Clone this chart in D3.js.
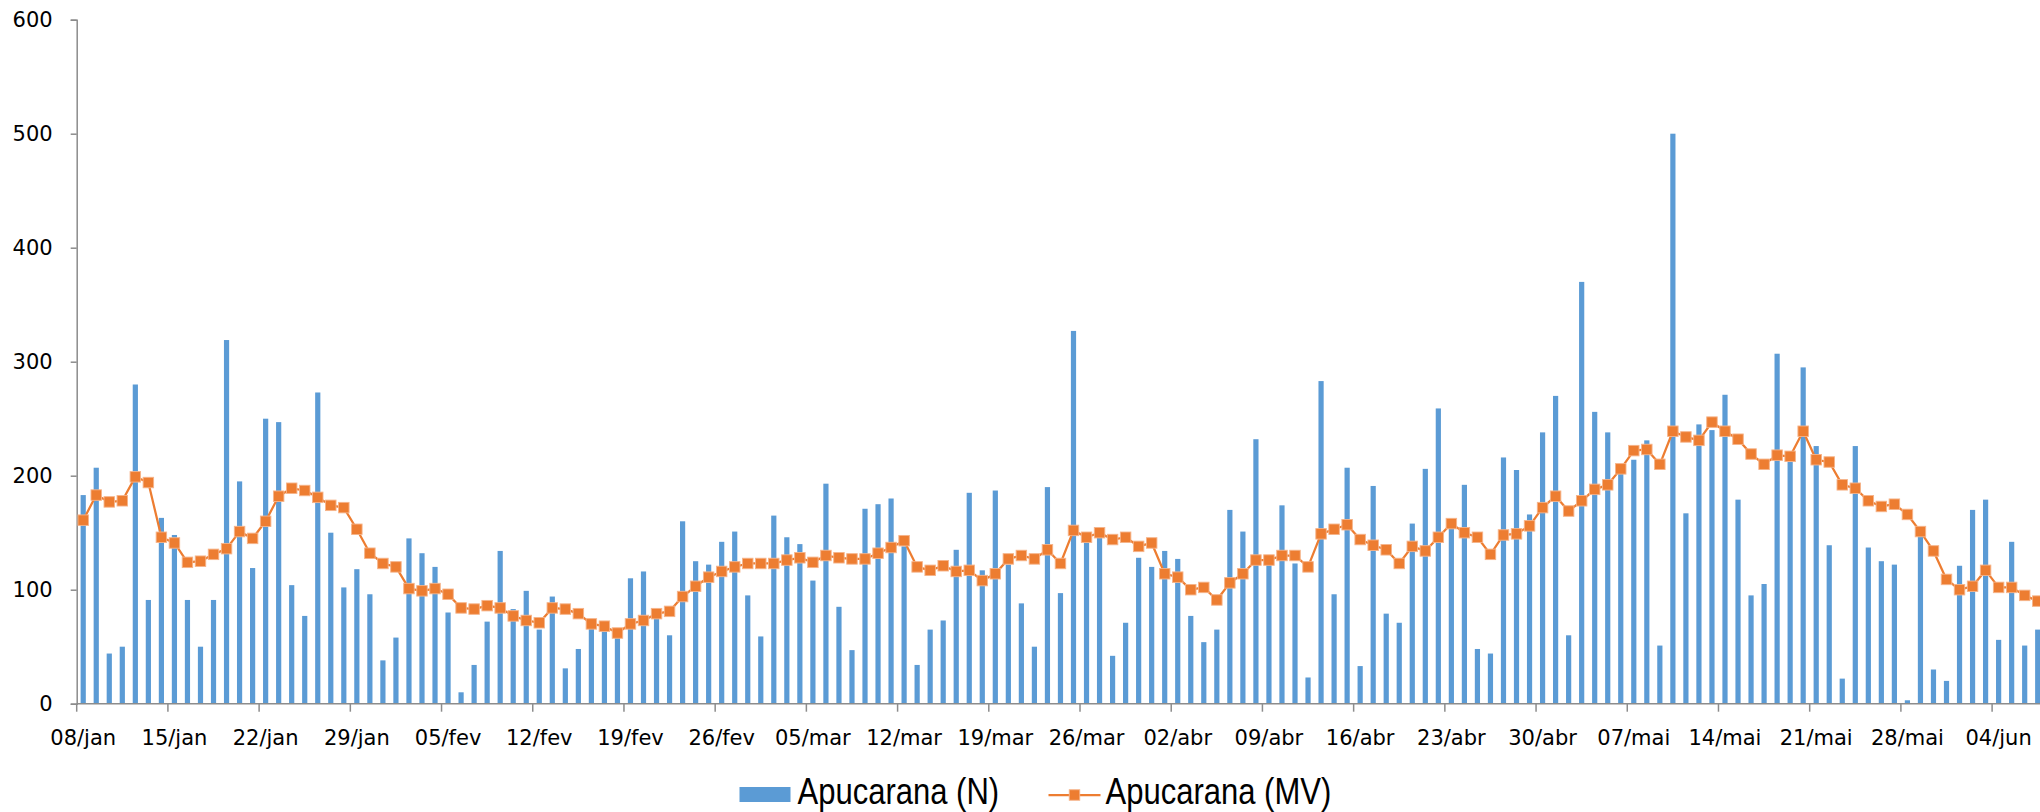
<!DOCTYPE html>
<html>
<head>
<meta charset="utf-8">
<script src="https://cdn.jsdelivr.net/npm/d3@7"></script>
<style>
  html, body { margin: 0; padding: 0; background: #ffffff; overflow: hidden; }
  svg { display: block; }
</style>
</head>
<body>
<svg id="chart" width="2040" height="812"></svg>
<script>
// ---- DATA ----
const startDate = "2021-01-08";
const dayCount = 151;
const tickLabels = ["08/jan","15/jan","22/jan","29/jan","05/fev","12/fev","19/fev","26/fev",
  "05/mar","12/mar","19/mar","26/mar","02/abr","09/abr","16/abr","23/abr","30/abr",
  "07/mai","14/mai","21/mai","28/mai","04/jun"];
const yTicks = [0, 100, 200, 300, 400, 500, 600];
const seriesNames = ["Apucarana (N)", "Apucarana (MV)"];

const dailyN = [
  183, 207, 44, 50, 280, 91, 163, 148, 91, 50, 91, 319, 195, 119, 250, 247, 104, 77, 273, 150,
  102, 118, 96, 38, 58, 145, 132, 120, 80, 10, 34, 72, 134, 83, 99, 65, 94, 31, 48,
  68, 66, 60, 110, 116, 78, 60, 160, 125, 122, 142, 151, 95, 59, 165, 146, 140, 108, 193,
  85, 47, 171, 175, 180, 138, 34, 65, 73, 135, 185, 117, 187, 122, 88, 50, 190, 97, 327,
  144, 146, 42, 71, 128, 120, 134, 127, 77, 54, 65, 170, 151, 232, 123, 174, 123, 23, 283,
  96, 207, 33, 191, 79, 71, 158, 206, 259, 154, 192, 48, 44, 216, 205, 166, 238, 270, 60,
  370, 256, 238, 202, 214, 231, 51, 500, 167, 245, 240, 271, 179, 95, 105, 307, 212, 295,
  226, 139, 22, 226, 137, 125, 122, 3, 149, 30, 20, 121, 170, 179, 56, 142, 51, 65
];
const movingAvg = [
  161, 183, 177, 178, 199, 194, 146, 141, 124, 125, 131, 136, 151, 145, 160, 182, 189, 187, 181,
  174, 172, 153, 132, 123, 120, 101, 99, 101, 96, 84, 83, 86, 84, 77, 73, 71, 84, 83,
  79, 70, 68, 62, 70, 73, 79, 81, 94, 103, 111, 116, 120, 123, 123, 123, 126, 128, 124, 130,
  128, 127, 127, 132, 137, 143, 120, 117, 121, 116, 117, 108, 114, 127, 130, 127, 135, 123, 152,
  146, 150, 144, 146, 138, 141, 114, 111, 100, 102, 91, 106, 114, 126, 126, 130, 130, 120, 149,
  153, 157, 144, 139, 135, 123, 138, 134, 146, 158, 150, 146, 131, 148, 149, 156, 172, 182, 169,
  178, 188, 192, 206, 222, 223, 210, 239, 234, 231, 247, 239, 232, 219, 210, 218, 217, 239,
  214, 212, 192, 189, 178, 173, 175, 166, 151, 134, 109, 100, 103, 117, 102, 102, 95, 90
];

// ---- DRAW ----
(function () {
  const svg = d3.select("#chart");
  const plotLeft = 76.7, plotBottom = 703.7, plotTop = 19.7, step = 13.03;
  const t0 = new Date(startDate + "T00:00:00");
  const days = d3.timeDay.range(t0, d3.timeDay.offset(t0, dayCount));

  const x = d3.scaleBand().domain(days.map((d, i) => i)).range([plotLeft, plotLeft + dayCount * step]).padding(0);
  const y = d3.scaleLinear().domain([0, 600]).range([plotBottom, plotTop]);
  const bw = x.bandwidth();
  const barW = 5.2;
  const axisColor = "#8c8c8c";
  const font = "'DejaVu Sans', Verdana, sans-serif";

  // Y axis
  const yAxis = d3.axisLeft(y).tickValues(yTicks).tickSize(6).tickPadding(18).tickFormat(d3.format("d"));
  const gy = svg.append("g").attr("transform", `translate(${plotLeft},0)`).call(yAxis);
  gy.select(".domain").attr("stroke", axisColor).attr("stroke-width", 1.5);
  gy.selectAll(".tick line").attr("stroke", axisColor).attr("stroke-width", 1.5);
  gy.selectAll(".tick text").attr("font-family", font).attr("font-size", 21).attr("fill", "#000");

  // Bars
  svg.append("g").selectAll("rect").data(dailyN).join("rect")
    .attr("x", (d, i) => x(i) + bw / 2 - barW / 2)
    .attr("y", d => y(d))
    .attr("width", barW)
    .attr("height", d => y(0) - y(d))
    .attr("fill", "#5B9BD5");

  // X axis
  svg.append("line").attr("x1", plotLeft).attr("x2", 2040).attr("y1", plotBottom).attr("y2", plotBottom)
    .attr("stroke", axisColor).attr("stroke-width", 1.5);
  const tickIdx = tickLabels.map((t, k) => k * 7);
  svg.append("g").selectAll("line").data(tickIdx).join("line")
    .attr("x1", i => x(i)).attr("x2", i => x(i))
    .attr("y1", plotBottom).attr("y2", plotBottom + 8)
    .attr("stroke", axisColor).attr("stroke-width", 1.5);
  svg.append("g").selectAll("text").data(tickLabels).join("text")
    .attr("x", (t, k) => x(k * 7) + bw / 2)
    .attr("y", 745)
    .attr("text-anchor", "middle")
    .attr("font-family", font).attr("font-size", 21).attr("fill", "#000")
    .text(t => t);

  // Line
  const lineColor = "#ED7D31";
  const line = d3.line().x((d, i) => x(i) + bw / 2).y(d => y(d));
  svg.append("path").datum(movingAvg).attr("d", line)
    .attr("fill", "none").attr("stroke", lineColor).attr("stroke-width", 2.25).attr("stroke-linejoin", "round");
  const ms = 10.5;
  svg.append("g").selectAll("rect").data(movingAvg).join("rect")
    .attr("x", (d, i) => x(i) + bw / 2 - ms / 2)
    .attr("y", d => y(d) - ms / 2)
    .attr("width", ms).attr("height", ms)
    .attr("fill", lineColor).attr("stroke", "#F6B48A").attr("stroke-width", 0.9);

  // Legend
  const legFont = "'Liberation Sans', Arial, sans-serif";
  const lg = svg.append("g");
  lg.append("rect").attr("x", 739.5).attr("y", 787).attr("width", 51).attr("height", 15).attr("fill", "#5B9BD5");
  lg.append("text").attr("transform", "translate(797.5,804) scale(0.85,1)")
    .attr("font-family", legFont).attr("font-size", 36.5)
    .attr("fill", "#000").text(seriesNames[0]);
  lg.append("line").attr("x1", 1048.5).attr("x2", 1100.5).attr("y1", 795).attr("y2", 795)
    .attr("stroke", lineColor).attr("stroke-width", 2.25);
  lg.append("rect").attr("x", 1074.5 - ms / 2).attr("y", 795 - ms / 2).attr("width", ms).attr("height", ms)
    .attr("fill", lineColor).attr("stroke", "#F6B48A").attr("stroke-width", 0.9);
  lg.append("text").attr("transform", "translate(1105.5,804) scale(0.85,1)")
    .attr("font-family", legFont).attr("font-size", 36.5)
    .attr("fill", "#000").text(seriesNames[1]);
})();
</script>
</body>
</html>
